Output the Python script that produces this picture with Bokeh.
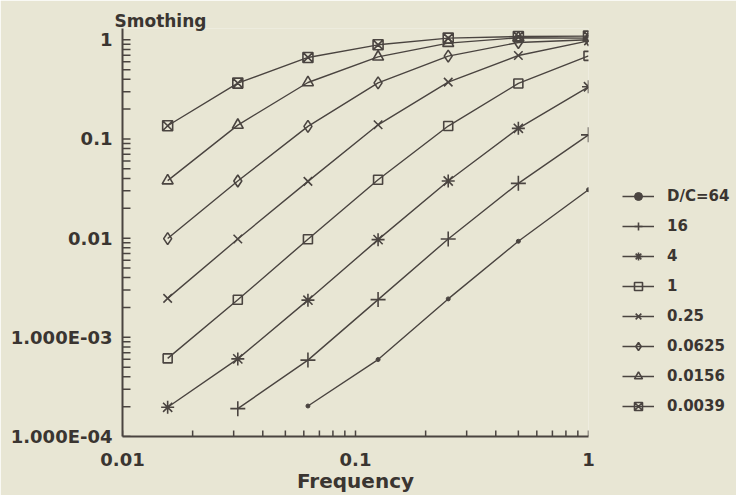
import math
from bokeh.plotting import figure
from bokeh.models import Range1d, Legend, LegendItem, FixedTicker, CustomJSTickFormatter
from bokeh.embed import file_html
from bokeh.resources import INLINE

# ---- data ----
freq = [0.015625, 0.03125, 0.0625, 0.125, 0.25, 0.5, 1.0]

series_labels = ["D/C=64", "16", "4", "1", "0.25", "0.0625", "0.0156", "0.0039"]
first_index = [2, 1, 0, 0, 0, 0, 0, 0]
smooth_64 = [2.03e-4, 5.97e-4, 2.44e-3, 9.3e-3, 0.0308]
smooth_16 = [1.91e-4, 5.89e-4, 2.40e-3, 9.8e-3, 0.0357, 0.110]
smooth_4 = [1.97e-4, 6.06e-4, 2.37e-3, 9.66e-3, 0.0377, 0.128, 0.336]
smooth_1 = [6.13e-4, 2.39e-3, 9.75e-3, 0.0388, 0.135, 0.363, 0.689]
smooth_025 = [2.47e-3, 9.8e-3, 0.0374, 0.139, 0.374, 0.695, 0.975]
smooth_00625 = [9.9e-3, 0.0377, 0.134, 0.368, 0.684, 0.94, 1.0]
smooth_00156 = [0.038, 0.138, 0.371, 0.673, 0.925, 1.05, 1.04]
smooth_00039 = [0.136, 0.366, 0.664, 0.89, 1.04, 1.08, 1.09]
all_series = [smooth_64, smooth_16, smooth_4, smooth_1, smooth_025,
              smooth_00625, smooth_00156, smooth_00039]

x_ticks = [0.01, 0.1, 1]
x_tick_labels = ["0.01", "0.1", "1"]
y_ticks = [1e-4, 1e-3, 1e-2, 1e-1, 1]
y_tick_labels = ["1.000E-04", "1.000E-03", "0.01", "0.1", "1"]

# ---- style ----
BG = "#e8e6d4"
INK = "#4a4440"
TXT = "#3a3531"
FONT = "DejaVu Sans"
markers = ["circle", "cross", "asterisk", "square", "x", "diamond", "triangle", "square_x"]
sizes = [4, 15, 13, 9, 12, 12, 11, 10]

p = figure(frame_width=466, frame_height=408,
           x_axis_type="log", y_axis_type="log",
           x_range=Range1d(0.01, 1), y_range=Range1d(1e-4, 1.3),
           output_backend="svg", toolbar_location=None,
           min_border_left=122, min_border_right=146,
           min_border_top=28, min_border_bottom=56,
           background_fill_color=BG, border_fill_color=BG,
           outline_line_color=None)
p.grid.visible = False

p.title.text = "Smothing"
p.title.align = "left"
p.title.offset = -8
p.title.standoff = -4
p.title.text_font = FONT
p.title.text_font_style = "bold"
p.title.text_font_size = "17px"
p.title.text_color = TXT

minor_x = [m * d for d in (0.01, 0.1) for m in range(2, 10)]
minor_y = [m * d for d in (1e-4, 1e-3, 1e-2, 1e-1) for m in range(2, 10)]
p.xaxis.ticker = FixedTicker(ticks=x_ticks, minor_ticks=minor_x)
p.yaxis.ticker = FixedTicker(ticks=y_ticks, minor_ticks=minor_y)
JS = """
    for (let i = 0; i < ticks_.length; i++) { if (Math.abs(Math.log10(tick) - Math.log10(ticks_[i])) < 1e-6) return labels[i]; }
    return "";
"""
p.xaxis.formatter = CustomJSTickFormatter(args=dict(ticks_=x_ticks, labels=x_tick_labels), code=JS)
p.yaxis.formatter = CustomJSTickFormatter(args=dict(ticks_=y_ticks, labels=y_tick_labels), code=JS)

for ax in (p.xaxis[0], p.yaxis[0]):
    ax.axis_line_color = INK
    ax.axis_line_width = 2
    ax.major_tick_line_color = None
    ax.minor_tick_line_color = None
    ax.major_tick_out = 0
    ax.minor_tick_out = 0
    ax.major_tick_in = 0
    ax.minor_tick_in = 0
    ax.major_label_text_font = FONT
    ax.major_label_text_font_style = "bold"
    ax.major_label_text_font_size = "18px"
    ax.major_label_text_color = TXT

p.yaxis.major_label_standoff = 10
p.xaxis.major_label_standoff = 16

p.xaxis.axis_label = "Frequency"
p.xaxis.axis_label_text_font = FONT
p.xaxis.axis_label_text_font_style = "bold"
p.xaxis.axis_label_text_font_size = "20px"
p.xaxis.axis_label_text_color = TXT
p.xaxis.axis_label_standoff = 0

# inward tick marks drawn from the axis lines into the frame
y_all = y_ticks + minor_y
p.ray(x=[x_ticks[0]] * len(y_all), y=y_all, length=8, angle=0,
      length_units="screen", line_color=INK, line_width=1.5)
x_all = x_ticks + minor_x
p.ray(x=x_all, y=[y_ticks[0]] * len(x_all), length=6, angle=math.pi / 2,
      length_units="screen", line_color=INK, line_width=1.5)

items = []
for lab, start, ys, mk, sz in zip(series_labels, first_index, all_series, markers, sizes):
    xs = freq[start:start + len(ys)]
    lr = p.line(xs, ys, line_color=INK, line_width=1.4)
    if mk == "circle":
        sr = p.scatter(xs, ys, marker=mk, size=sz, fill_color=INK, line_color=INK)
    else:
        sr = p.scatter(xs, ys, marker=mk, size=sz, fill_color=None,
                       line_color=INK, line_width=1.6)
    items.append(LegendItem(label=lab, renderers=[lr, sr]))

legend = Legend(items=items, location=(34, 20),
                glyph_width=32, glyph_height=20, label_height=20,
                spacing=10, label_standoff=13, padding=0, margin=0,
                border_line_alpha=0, background_fill_alpha=0,
                label_text_font=FONT, label_text_font_style="bold",
                label_text_font_size="15px", label_text_color=TXT)
p.add_layout(legend, "right")

open("out.html", "w").write(file_html(p, INLINE))
